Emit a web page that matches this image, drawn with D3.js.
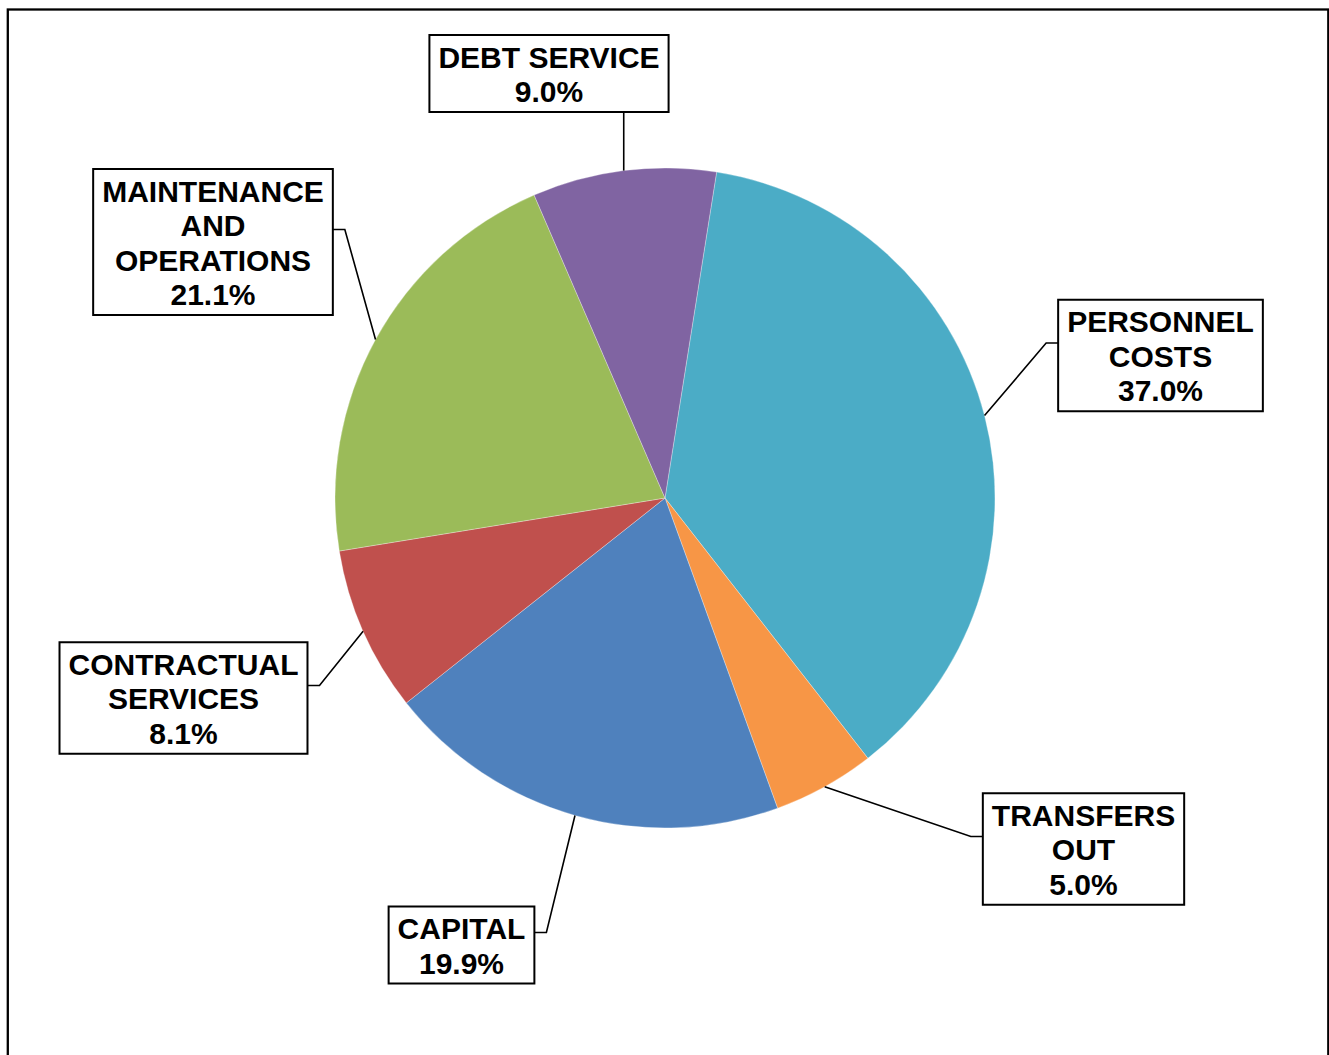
<!DOCTYPE html>
<html>
<head>
<meta charset="utf-8">
<script src="https://cdn.jsdelivr.net/npm/d3@7"></script>
<style>
  html, body { margin: 0; padding: 0; background: #fff; }
  svg { display: block; }
  text { font-family: "Liberation Sans", Arial, sans-serif; font-weight: bold; fill: #000; }
</style>
</head>
<body>
<script>
// Budget share by expenditure category (percent of total)
const categories = [
  "PERSONNEL\nCOSTS",
  "TRANSFERS\nOUT",
  "CAPITAL",
  "CONTRACTUAL\nSERVICES",
  "MAINTENANCE\nAND\nOPERATIONS",
  "DEBT SERVICE"
];
const values = [37.0, 5.0, 19.9, 8.1, 21.1, 9.0];
const colors = ["#4BACC6", "#F79646", "#4F81BD", "#C0504D", "#9BBB59", "#8064A2"];

// Label box centres (layout only)
const labelCenters = [
  [1160.5, 355.5],
  [1083.5, 849],
  [461.5, 945],
  [183.5, 698],
  [213, 242],
  [549, 73.5]
];

const W = 1329, H = 1055;
const cx = 665, cy = 498, R = 330;
const startDeg = 9;
const fontSize = 30, lineH = 34.5;

const svg = d3.select("body").append("svg")
  .attr("width", W).attr("height", H);

// outer frame
svg.append("rect")
  .attr("x", 7.8).attr("y", 9.5)
  .attr("width", 1320.5).attr("height", 1200)
  .attr("fill", "none").attr("stroke", "#000").attr("stroke-width", 2.3);

const rows = categories.map((c, i) => ({ name: c, value: values[i], color: colors[i], pos: labelCenters[i] }));

const start = startDeg * Math.PI / 180;
const pie = d3.pie().value(d => d.value).sort(null)
  .startAngle(start).endAngle(start + 2 * Math.PI);
const arcs = pie(rows);

const arc = d3.arc().innerRadius(0).outerRadius(R);
const g = svg.append("g").attr("transform", `translate(${cx},${cy})`);

g.selectAll("path.slice").data(arcs).join("path")
  .attr("class", "slice")
  .attr("d", arc)
  .attr("fill", d => d.data.color)
  .attr("stroke", "#fff")
  .attr("stroke-width", 0.5)
  .attr("stroke-opacity", 0.6);

// labels with boxes and leader lines
const labels = svg.append("g");
arcs.forEach(a => {
  const d = a.data;
  const lines = d.name.split("\n").concat([d.value.toFixed(1) + "%"]);
  const mid = (a.startAngle + a.endAngle) / 2;
  const px = cx + R * Math.sin(mid), py = cy - R * Math.cos(mid);

  const boxH = lines.length * lineH + 8;
  const [bx, by] = d.pos;
  const top = by - boxH / 2;

  const lg = labels.append("g");
  const rect = lg.append("rect");
  const txt = lg.append("text")
    .attr("text-anchor", "middle")
    .attr("font-size", fontSize);
  lines.forEach((t, k) => {
    txt.append("tspan").attr("x", bx).attr("y", top + 32.5 + k * lineH).text(t);
  });
  const tw = d3.max(txt.selectAll("tspan").nodes(), n => n.getComputedTextLength());
  const boxW = tw + 18;
  const left = bx - boxW / 2, right = bx + boxW / 2;

  rect.attr("x", left).attr("y", top).attr("width", boxW).attr("height", boxH)
    .attr("fill", "#fff").attr("stroke", "#000").attr("stroke-width", 2);

  let pts;
  if (px > left && px < right) {
    // straight drop from the box edge to the slice
    const edgeY = py > by ? top + boxH : top;
    pts = [[px, edgeY], [px, py]];
  } else {
    const ay = by - 12.5;
    const ex = px > right ? right : left;
    const elbowX = px > right ? right + 12 : left - 12;
    pts = [[ex, ay], [elbowX, ay], [px, py]];
  }
  labels.insert("path", ":first-child")
    .attr("d", d3.line()(pts))
    .attr("fill", "none").attr("stroke", "#000").attr("stroke-width", 1.6);
});
</script>
</body>
</html>
